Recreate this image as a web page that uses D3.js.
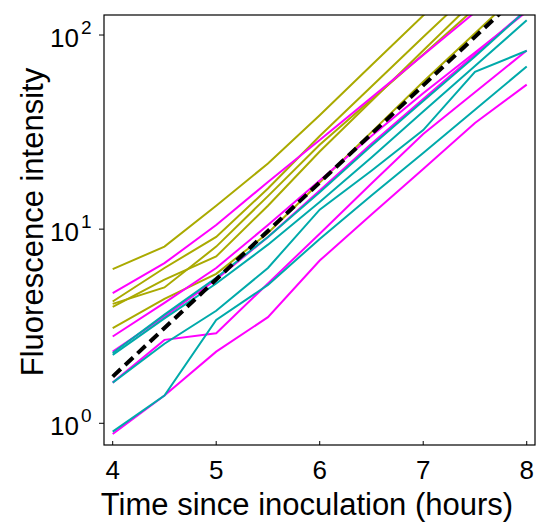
<!DOCTYPE html>
<html>
<head>
<meta charset="utf-8">
<script src="https://cdn.jsdelivr.net/npm/d3@7"></script>
<style>
  body { margin: 0; background: #fff; }
  text { font-family: "Liberation Sans", Arial, sans-serif; fill: #000; }
</style>
</head>
<body>
<svg id="chart" width="548" height="525"></svg>
<script>
// sampling times (hours since inoculation)
let hours = [4, 4.5, 5, 5.5, 6, 6.5, 7, 7.5, 8];

// fluorescence per replicate, grouped by colour
let oliveSeries = [
  [6.22, 8.13, 13.2, 21.8, 38.6, 69.8, 126, 224, 398],
  [4.24, 6.31, 9.12, 16.2, 30.2, 54.3, 97.7, 174, 309],
  [4.12, 5.01, 8.13, 14.8, 27.2, 46.6, 79.4, 137, 234],
  [3.98, 5.50, 7.24, 13.2, 25.1, 45.7, 83.2, 151, 275],
  [3.09, 4.37, 5.89, 9.55, 17.4, 31.6, 57.5, 102, 182]
];
let magentaSeries = [
  [4.68, 6.68, 10.5, 17.5, 28.8, 47.6, 78.9, 131, 219],
  [2.80, 4.17, 6.31, 10.5, 17.8, 30.2, 50.1, 81.3, 132],
  [2.34, 3.55, 5.50, 9.12, 15.8, 27.5, 46.8, 79.4, 135],
  [1.62, 2.69, 2.91, 5.25, 9.48, 17.2, 30.9, 50.7, 83.2],
  [0.88, 1.39, 2.34, 3.52, 6.89, 11.9, 20.4, 35.2, 55.5]
];
let tealSeries = [
  [2.30, 3.63, 5.62, 9.12, 15.5, 26.9, 45.7, 77.6, 135],
  [2.25, 3.47, 5.25, 8.32, 13.8, 23.4, 40.4, 69.2, 119],
  [1.62, 2.57, 3.80, 6.31, 12.6, 20.0, 32.4, 64.6, 83.0],
  [0.906, 1.39, 3.41, 5.16, 8.91, 14.9, 24.7, 41.2, 68.9]
];
// exponential fit (black dashed)
let fitHours = [4, 8];
let fitValues = [1.74, 174];

let xTicks = [4, 5, 6, 7, 8];
let yTicks = [1, 10, 100];
let yTickExp = ["0", "1", "2"];

let svg = d3.select("#chart");
let plotLeft = 104, plotRight = 535, plotTop = 15, plotBottom = 445;

let x = d3.scaleLinear().domain([3.916, 8.08]).range([plotLeft, plotRight]);
let y = d3.scaleLog().domain([0.773, 126.8]).range([plotBottom, plotTop]);

svg.append("defs").append("clipPath").attr("id", "plotclip")
  .append("rect").attr("x", plotLeft).attr("y", plotTop)
  .attr("width", plotRight - plotLeft).attr("height", plotBottom - plotTop);

let plot = svg.append("g").attr("clip-path", "url(#plotclip)");

let line = d3.line()
  .x((d, i) => x(hours[i]))
  .y(d => y(d));

function drawGroup(series, color) {
  plot.append("g")
    .selectAll("path")
    .data(series)
    .enter()
    .append("path")
    .attr("d", d => line(d))
    .attr("fill", "none")
    .attr("stroke", color)
    .attr("stroke-width", 2);
}

drawGroup(oliveSeries, "#aaaa00");
drawGroup(magentaSeries, "#ff00ff");
drawGroup(tealSeries, "#00aaaa");

let fitLine = d3.line()
  .x((d, i) => x(fitHours[i]))
  .y(d => y(d));

plot.append("path")
  .attr("d", fitLine(fitValues))
  .attr("fill", "none")
  .attr("stroke", "#000")
  .attr("stroke-width", 4)
  .attr("stroke-dasharray", "11,6");

// frame
svg.append("rect")
  .attr("x", plotLeft).attr("y", plotTop)
  .attr("width", plotRight - plotLeft).attr("height", plotBottom - plotTop)
  .attr("fill", "none")
  .attr("stroke", "#000")
  .attr("stroke-width", 1.2);

// x axis: ticks point inward
let xAxis = svg.append("g");
xAxis.selectAll("line")
  .data(xTicks)
  .enter()
  .append("line")
  .attr("x1", d => x(d)).attr("x2", d => x(d))
  .attr("y1", plotBottom).attr("y2", plotBottom - 4)
  .attr("stroke", "#000");
xAxis.selectAll("text")
  .data(xTicks)
  .enter()
  .append("text")
  .attr("x", d => x(d))
  .attr("y", 479)
  .attr("text-anchor", "middle")
  .style("font-size", "26px")
  .text(d => d);

// y axis: ticks point outward, labels as 10^n
let yAxis = svg.append("g");
yAxis.selectAll("line")
  .data(yTicks)
  .enter()
  .append("line")
  .attr("x1", plotLeft - 5).attr("x2", plotLeft)
  .attr("y1", d => y(d)).attr("y2", d => y(d))
  .attr("stroke", "#000");
yAxis.selectAll("text.base")
  .data(yTicks)
  .enter()
  .append("text")
  .attr("class", "base")
  .attr("x", 79)
  .attr("y", d => y(d) + 12)
  .attr("text-anchor", "end")
  .style("font-size", "26px")
  .text("10");
yAxis.selectAll("text.exp")
  .data(yTicks)
  .enter()
  .append("text")
  .attr("class", "exp")
  .attr("x", 81)
  .attr("y", d => y(d) - 1)
  .style("font-size", "19px")
  .text((d, i) => yTickExp[i]);

svg.append("text")
  .attr("x", 307)
  .attr("y", 515)
  .attr("text-anchor", "middle")
  .style("font-size", "31px")
  .text("Time since inoculation (hours)");

svg.append("text")
  .attr("transform", "translate(43,222) rotate(-90)")
  .attr("text-anchor", "middle")
  .style("font-size", "31px")
  .text("Fluorescence intensity");
</script>
</body>
</html>
